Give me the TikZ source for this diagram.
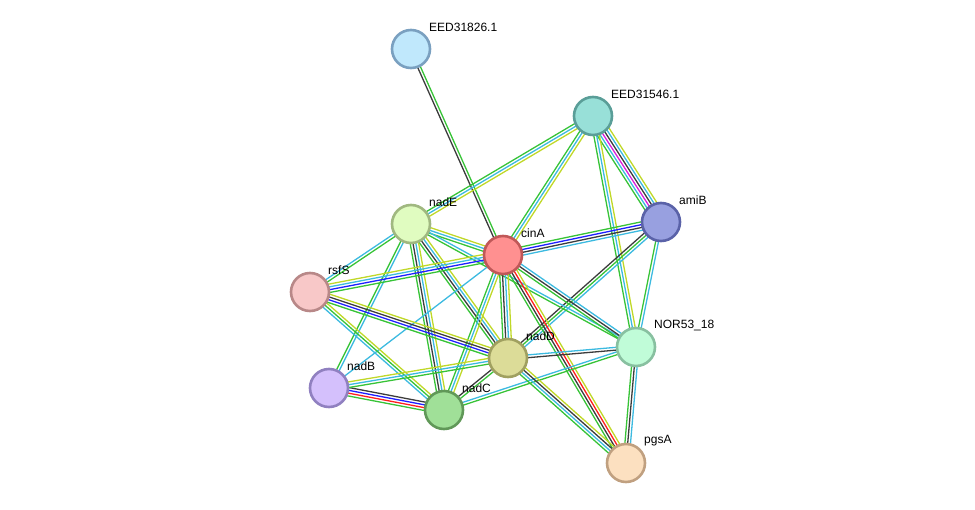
\documentclass[tikz,border=0pt]{standalone}
\usepackage{fontspec}
\setmainfont{Liberation Sans}
\usetikzlibrary{calc,backgrounds}
\definecolor{gr}{RGB}{55,195,55}
\definecolor{cy}{RGB}{60,186,224}
\definecolor{ye}{RGB}{192,216,40}
\definecolor{dk}{RGB}{60,60,60}
\definecolor{bl}{RGB}{30,30,255}
\definecolor{rd}{RGB}{255,30,30}
\definecolor{mg}{RGB}{220,30,220}
\newcommand\sedge[3]{%
  \foreach[count=\i] \c in {#3}{\xdef\sedgecount{\i}}%
  \foreach[count=\i] \c in {#3}{%
    \pgfmathsetmacro\off{(\i-(\sedgecount+1)/2)*2.8}%
    \draw[\c, line width=1.3pt] ($(#1)!\off pt!90:(#2)$) -- ($(#2)!\off pt!-90:(#1)$);
  }%
}
\tikzset{
  prot/.style={circle, minimum size=38pt, inner sep=0pt, line width=2.6pt},
  lbl/.style={anchor=west, inner sep=0pt, font=\fontsize{12}{14}\selectfont},
}
\begin{document}
\begin{tikzpicture}[x=1pt,y=-1pt]
\useasboundingbox (0,0) rectangle (975,509);
\node[prot, draw={rgb,255:red,122;green,160;blue,192}, fill={rgb,255:red,192;green,232;blue,252}] (e826) at (411,49) {};
\node[prot, draw={rgb,255:red,90;green,158;blue,152}, fill={rgb,255:red,152;green,224;blue,216}] (e546) at (593,116) {};
\node[prot, draw={rgb,255:red,90;green,98;blue,168}, fill={rgb,255:red,152;green,160;blue,224}] (amiB) at (661,222) {};
\node[prot, draw={rgb,255:red,160;green,184;blue,128}, fill={rgb,255:red,224;green,252;blue,192}] (nadE) at (411,224) {};
\node[prot, draw={rgb,255:red,192;green,88;blue,88}, fill={rgb,255:red,255;green,144;blue,144}] (cinA) at (503,255) {};
\node[prot, draw={rgb,255:red,184;green,136;blue,136}, fill={rgb,255:red,248;green,200;blue,200}] (rsfS) at (310,292) {};
\node[prot, draw={rgb,255:red,160;green,160;blue,96}, fill={rgb,255:red,220;green,220;blue,152}] (nadD) at (508,358) {};
\node[prot, draw={rgb,255:red,136;green,192;blue,160}, fill={rgb,255:red,192;green,252;blue,216}] (nor) at (636,347) {};
\node[prot, draw={rgb,255:red,144;green,128;blue,192}, fill={rgb,255:red,212;green,192;blue,252}] (nadB) at (329,388) {};
\node[prot, draw={rgb,255:red,96;green,152;blue,88}, fill={rgb,255:red,160;green,224;blue,152}] (nadC) at (444,410) {};
\node[prot, draw={rgb,255:red,192;green,160;blue,128}, fill={rgb,255:red,252;green,224;blue,192}] (pgsA) at (626,463) {};
\node[lbl] (l1) at ($(e826)+(18,-22)$) {EED31826.1};
\node[lbl] (l2) at ($(e546)+(18,-22)$) {EED31546.1};
\node[lbl] (l3) at ($(amiB)+(18,-22)$) {amiB};
\node[lbl] (l4) at ($(nadE)+(18,-22)$) {nadE};
\node[lbl] (l5) at ($(cinA)+(18,-22)$) {cinA};
\node[lbl] (l6) at ($(rsfS)+(18,-22)$) {rsfS};
\node[lbl] (l7) at ($(nadD)+(18,-22)$) {nadD};
\node[lbl] (l8) at ($(nor)+(18,-22)$) {NOR53\_18};
\node[lbl] (l9) at ($(nadB)+(18,-22)$) {nadB};
\node[lbl] (l10) at ($(nadC)+(18,-22)$) {nadC};
\node[lbl] (l11) at ($(pgsA)+(18,-22)$) {pgsA};
\begin{scope}[on background layer]
\sedge{cinA}{e826}{gr,dk}
\sedge{e546}{nadE}{gr,cy,ye}
\sedge{e546}{cinA}{gr,cy,ye}
\sedge{e546}{amiB}{gr,cy,mg,dk,cy,ye}
\sedge{e546}{nor}{gr,cy,ye}
\sedge{amiB}{cinA}{gr,bl,dk,cy}
\sedge{amiB}{nadD}{dk,gr,cy}
\sedge{amiB}{nor}{gr,cy}
\sedge{nadE}{rsfS}{cy,gr}
\sedge{nadE}{cinA}{gr,cy,ye}
\sedge{nadE}{nadD}{gr,dk,cy,ye}
\sedge{nadE}{nadC}{gr,dk,cy,ye}
\sedge{nadE}{nadB}{gr,cy}
\sedge{nadE}{nor}{gr,cy}
\sedge{cinA}{rsfS}{ye,cy,bl,gr}
\sedge{cinA}{nadD}{gr,dk,cy,ye}
\sedge{cinA}{nadC}{gr,cy,ye}
\sedge{cinA}{nadB}{cy}
\sedge{cinA}{nor}{gr,dk,cy}
\sedge{cinA}{pgsA}{gr,dk,rd,ye}
\sedge{rsfS}{nadD}{gr,bl,dk,ye}
\sedge{rsfS}{nadC}{cy,gr,ye}
\sedge{nadB}{nadC}{gr,rd,bl,dk}
\sedge{nadB}{nadD}{gr,cy,ye}
\sedge{nadC}{nadD}{gr,dk}
\sedge{nadC}{nor}{gr,cy}
\sedge{nadD}{nor}{dk,cy}
\sedge{nadD}{pgsA}{gr,cy,dk,ye}
\sedge{nor}{pgsA}{gr,dk,cy}
\end{scope}
\end{tikzpicture}
\end{document}
